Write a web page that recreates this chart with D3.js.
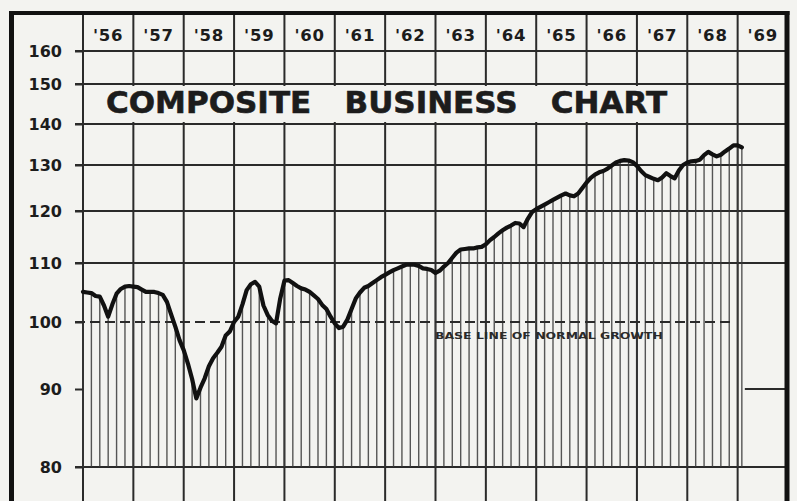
<!DOCTYPE html>
<html><head><meta charset="utf-8">
<script src="https://cdn.jsdelivr.net/npm/d3@7"></script>
<style>
html,body{margin:0;padding:0;background:#f3f3f0;}
svg{display:block;}
text{font-family:"DejaVu Sans",sans-serif;}
</style></head><body>
<svg id="chart" width="797" height="501"></svg>
<script>
// ---------- data ----------
const startYear = 1956;
const yearLabels = ["'56","'57","'58","'59","'60","'61","'62","'63","'64","'65","'66","'67","'68","'69"];
const yTicks = [80, 90, 100, 110, 120, 130, 140, 150, 160];
const gridValues = [110, 120, 130, 140, 150, 160];
const baseValue = 100;
const titleText = "COMPOSITE BUSINESS CHART";
const baseLabel = "BASE LINE OF NORMAL GROWTH";
// monthly index values, Jan 1956 .. Feb 1969
const values = [
  105.1,105.0,104.9,104.4,104.3,102.8,100.9,103.0,104.8,105.6,106.0,106.1, // 1956
  106.0,105.9,105.5,105.1,105.1,105.1,104.9,104.6,103.4,101.3,99.3,97.3,   // 1957
  95.8,93.8,91.5,88.8,90.2,91.6,93.4,94.6,95.4,96.3,98.0,98.6,              // 1958
  100.0,100.9,103.0,105.4,106.4,106.8,106.0,102.8,101.2,100.2,99.8,104.0,   // 1959
  107.0,107.1,106.6,106.1,105.7,105.5,105.1,104.5,103.9,102.9,102.2,100.9,  // 1960
  99.8,99.1,99.3,100.4,102.2,104.0,105.0,105.8,106.1,106.6,107.1,107.6,     // 1961
  108.0,108.4,108.8,109.1,109.4,109.7,109.7,109.7,109.5,109.1,109.0,108.8,  // 1962
  108.3,108.7,109.4,110.0,111.0,112.0,112.6,112.7,112.8,112.8,113.0,113.1,  // 1963
  113.6,114.4,115.0,115.7,116.3,116.8,117.2,117.7,117.6,116.9,118.5,119.8,  // 1964
  120.4,120.9,121.4,121.9,122.4,122.9,123.4,123.8,123.4,123.2,123.8,125.0,  // 1965
  126.2,127.2,127.9,128.4,128.7,129.2,129.9,130.6,131.0,131.2,131.1,130.7,  // 1966
  129.8,128.7,127.8,127.4,127.0,126.7,127.3,128.2,127.6,127.1,128.8,130.0,  // 1967
  130.6,130.9,131.0,131.3,132.4,133.2,132.6,132.1,132.5,133.3,134.0,134.8,  // 1968
  134.8,134.3                                                               // 1969
];

// ---------- drawing ----------
const svg = d3.select('#chart');
const ink = '#1c1c1c';
const paper = '#f3f3f0';

const nYears = yearLabels.length;
const x = d3.scaleLinear().domain([0, nYears * 12]).range([83, 788]);
const y = d3.scaleLinear().domain(yTicks).range([467, 389, 322, 263, 211, 165, 124, 84, 51]);

svg.append('rect').attr('width', 797).attr('height', 501).attr('fill', paper);

// horizontal grid lines
svg.append('g').selectAll('line').data(gridValues.concat([yTicks[0]])).join('line')
  .attr('x1', 75).attr('x2', 788)
  .attr('y1', d => y(d)).attr('y2', d => y(d))
  .attr('stroke', '#2a2a2a').attr('stroke-width', 2);

// 90 line only visible in last (empty) column
const lastIdx = values.length - 1;
svg.append('line')
  .attr('x1', x(lastIdx) + 3).attr('x2', 788)
  .attr('y1', y(90)).attr('y2', y(90))
  .attr('stroke', '#2a2a2a').attr('stroke-width', 1.8);

// vertical year lines
svg.append('g').selectAll('line').data(d3.range(0, nYears + 1)).join('line')
  .attr('x1', d => x(d * 12)).attr('x2', d => x(d * 12))
  .attr('y1', 13).attr('y2', 501)
  .attr('stroke', '#2a2a2a').attr('stroke-width', 2);

// hatch lines beneath the curve (bimonthly)
const hatchIdx = d3.range(0, values.length, 2).concat([lastIdx]);
svg.append('g').selectAll('line').data(hatchIdx).join('line')
  .attr('x1', i => x(i)).attr('x2', i => x(i))
  .attr('y1', y(yTicks[0])).attr('y2', i => y(values[i]))
  .attr('stroke', '#3a3a3a').attr('stroke-width', 1.4).attr('opacity', 0.85);

// base line of normal growth (dashed)
svg.append('line')
  .attr('x1', 75).attr('x2', x(lastIdx) - 10)
  .attr('y1', y(baseValue)).attr('y2', y(baseValue))
  .attr('stroke', '#2a2a2a').attr('stroke-width', 2)
  .attr('stroke-dasharray', '10,5');

svg.append('text')
  .attr('x', 435).attr('y', 339)
  .attr('font-size', 9.5).attr('font-weight', 'bold').attr('fill', '#2a2a2a')
  .attr('textLength', 228).attr('lengthAdjust', 'spacingAndGlyphs')
  .text(baseLabel);

// title band
svg.append('rect')
  .attr('x', 84).attr('y', y(150) + 2)
  .attr('width', 602).attr('height', y(140) - y(150) - 4)
  .attr('fill', paper);
svg.append('text')
  .attr('x', 106).attr('y', 113)
  .attr('font-size', 31).attr('font-weight', 'bold').attr('fill', ink)
  .attr('stroke', ink).attr('stroke-width', 0.6)
  .attr('word-spacing', 22.5)
  .text(titleText);

// y axis labels and ticks
const yAxis = d3.axisLeft(y).tickValues(yTicks).tickSize(8).tickPadding(13).tickFormat(d3.format('d'));
const ag = svg.append('g').attr('transform', 'translate(83,0)').call(yAxis);
ag.select('.domain').remove();
ag.selectAll('.tick line').attr('stroke', '#2a2a2a').attr('stroke-width', 2);
ag.selectAll('.tick text')
  .attr('font-family', '"DejaVu Sans",sans-serif')
  .attr('font-size', 16).attr('font-weight', 'bold').attr('fill', ink);

// year labels
svg.append('g').selectAll('text').data(yearLabels).join('text')
  .attr('x', (d, i) => x(i * 12 + 6))
  .attr('y', 41)
  .attr('text-anchor', 'middle')
  .attr('font-size', 16.5).attr('font-weight', 'bold').attr('fill', ink)
  .attr('letter-spacing', 0.8)
  .text(d => d);

// curve
const line = d3.line().x((d, i) => x(i)).y(d => y(d)).curve(d3.curveLinear);
svg.append('path').datum(values)
  .attr('d', line)
  .attr('fill', 'none').attr('stroke', '#111')
  .attr('stroke-width', 4.2).attr('stroke-linejoin', 'round').attr('stroke-linecap', 'round');

// outer frame
svg.append('line').attr('x1', 11.5).attr('x2', 11.5).attr('y1', 11).attr('y2', 501)
  .attr('stroke', '#111').attr('stroke-width', 5);
svg.append('line').attr('x1', 787).attr('x2', 787).attr('y1', 11).attr('y2', 501)
  .attr('stroke', '#111').attr('stroke-width', 5);
svg.append('line').attr('x1', 9).attr('x2', 789.5).attr('y1', 13).attr('y2', 13)
  .attr('stroke', '#111').attr('stroke-width', 4);
</script>
</body></html>
